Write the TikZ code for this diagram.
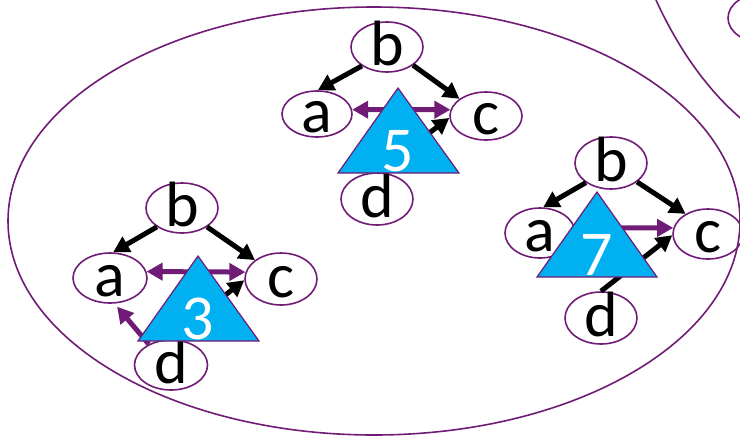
\documentclass[tikz,border=0pt]{standalone}
\usepackage{fontspec}
\setmainfont{Carlito}
\usetikzlibrary{shapes.geometric,arrows.meta}
\definecolor{pur}{RGB}{112,28,118}
\definecolor{tri}{RGB}{0,176,240}
\begin{document}
\begin{tikzpicture}[x=1pt,y=-1pt,
 nd/.style={ellipse,draw=pur,line width=1.6pt,minimum width=72pt,minimum height=50pt,inner sep=0pt},
 lt/.style={font=\fontsize{64}{64}\selectfont,anchor=base,yshift=-18pt,inner sep=0pt},
 dg/.style={font=\fontsize{64}{64}\selectfont,anchor=base,inner sep=0pt,text=white},
 blk/.style={line width=5pt,-{Triangle[length=16pt,width=17pt]}},
 pa/.style={line width=5pt,draw=pur,-{Triangle[length=16pt,width=17pt]}},
 pd/.style={line width=5pt,draw=pur,{Triangle[length=16pt,width=17pt]}-{Triangle[length=16pt,width=17pt]}},
 trs/.style={fill=tri,draw=pur,line width=1.2pt},
 big/.style={draw=pur,line width=1.6pt}]
\useasboundingbox (0,0) rectangle (740,440);
\clip (0,0) rectangle (740,440);
\fill[white] (0,0) rectangle (740,440);
% large enclosing shapes
\draw[big] (374,221) ellipse [x radius=366pt, y radius=214pt];
\draw[big] (656,0) .. controls (672,35) and (700,85) .. (745,122);
\node[nd] (b9) at (764,18) {};
% tree 5
\node[nd] (b5) at (387,47) {};
\node[nd,minimum width=70pt,minimum height=46pt] (a5) at (317,114) {};
\node[nd,minimum height=48pt] (c5) at (486,116) {};
\node[nd,minimum height=52pt] (d5) at (377,199) {};
% tree 3
\node[nd] (b3) at (182,208) {};
\node[nd,minimum width=74pt] (a3) at (110,278) {};
\node[nd,minimum height=52pt] (c3) at (281,279) {};
\node[nd,minimum width=73pt] (d3) at (171,365) {};
% tree 7
\node[nd,minimum height=52pt] (b7) at (611,163) {};
\node[nd,minimum width=70pt] (a7) at (540,233) {};
\node[nd,minimum width=70pt] (c7) at (708,234) {};
\node[nd,minimum height=52pt] (d7) at (601,318) {};
% connectors tree 5
\draw[blk] (b5.217) -- (a5.88);
\draw[blk] (b5.325) -- (c5.147);
\draw[pd] (a5.7) -- (c5.170);
\draw[blk] (d5.90) -- (c5.183);
% connectors tree 3
\draw[blk] (b3.217) -- (a3.83);
\draw[blk] (b3.323) -- (c3.144);
\draw[pd] (a3.10) -- (c3.169);
\draw[pa,shorten >=4pt] (d3.137) -- (a3.280);
\draw[blk] (d3.95) -- (c3.182);
% connectors tree 7
\draw[blk] (b7.218) -- (a7.83);
\draw[blk] (b7.324) -- (c7.138);
\draw[pa] (a7.8) -- (c7.170);
\draw[blk] (d7.90) -- (c7.182);
% letters
\node[lt] (tb5) at (b5) {b};
\node[lt] (ta5) at (a5) {a};
\node[lt] (tc5) at (c5) {c};
\node[lt] (td5) at (d5) {d};
\node[lt] (tb3) at (b3) {b};
\node[lt] (ta3) at (a3) {a};
\node[lt] (tc3) at (c3) {c};
\node[lt] (td3) at (d3) {d};
\node[lt] (tb7) at (b7) {b};
\node[lt] (ta7) at (a7) {a};
\node[lt] (tc7) at (c7) {c};
\node[lt] (td7) at (d7) {d};
% triangles
\filldraw[trs] (398,88) -- (459,173) -- (338,173) -- cycle;
\filldraw[trs] (198,256) -- (259,341) -- (138,341) -- cycle;
\filldraw[trs] (597,192) -- (657,277) -- (537,277) -- cycle;
\node[dg] (n5) at (398,171) {5};
\node[dg] (n3) at (198,339) {3};
\node[dg] (n7) at (597,275) {7};
\end{tikzpicture}
\end{document}
